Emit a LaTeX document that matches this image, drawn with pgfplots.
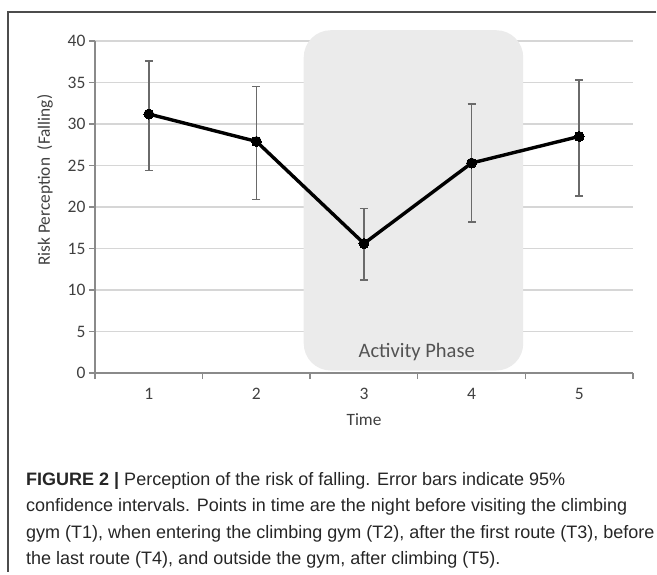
\documentclass[border=0pt]{standalone}
\usepackage{fontspec}
\setmainfont{Liberation Sans}
\newfontfamily\carlito{Carlito}
\usepackage{pgfplots}
\pgfplotsset{compat=1.18}

\definecolor{axisgray}{HTML}{8A8A8A}
\definecolor{gridgray}{HTML}{D6D6D6}
\definecolor{boxgray}{HTML}{EBEBEB}
\definecolor{txtgray}{HTML}{404040}
\definecolor{bargray}{HTML}{6A6A6A}

% time point, mean, upper and lower 95% CI half-widths
\pgfplotstableread{
x y ep em
1 31.2 6.4 6.8
2 27.9 6.6 7.0
3 15.6 4.2 4.4
4 25.3 7.1 7.1
5 28.5 6.8 7.2
}\risk

\begin{document}
\begin{tikzpicture}
\path (0pt,0pt) rectangle (657pt,-575pt);
\draw[black!70, line width=1.2pt] (656.4pt,-12pt) -- (8pt,-12pt) -- (8pt,-572pt);

\begin{axis}[
    set layers,
    scale only axis,
    width=538pt, height=332pt,
    at={(95pt,-373pt)}, anchor=south west,
    xmin=0.5, xmax=5.5,
    ymin=0, ymax=40,
    ytick={0,5,...,40},
    xtick={0.5,1.5,...,5.5},
    xticklabels={},
    extra x ticks={1,2,3,4,5},
    extra x tick labels={1,2,3,4,5},
    extra x tick style={major tick length=0pt},
    axis lines*=left,
    axis line style={axisgray, line width=1.6pt, -},
    tick style={axisgray, line width=1.4pt},
    tick align=outside,
    major tick length=6pt,
    ymajorgrids=true,
    grid style={gridgray, line width=1.3pt},
    clip=false,
    /pgf/number format/assume math mode=true,
    every tick label/.append style={font=\carlito\fontsize{17.5}{20}\selectfont, text=txtgray},
    xticklabel style={yshift=-12pt},
    xlabel={Time},
    ylabel={Risk Perception\ \ (Falling)},
    every axis x label/.style={at={(axis description cs:0.5,-0.1416)}, anchor=center,
        font=\carlito\fontsize{17.3}{20}\selectfont, text=txtgray},
    every axis y label/.style={at={(axis description cs:-0.093,0.581)}, rotate=90, anchor=center,
        font=\carlito\fontsize{17.3}{20}\selectfont, text=txtgray},
]
\draw[on layer=axis background, fill=boxgray, draw=none, rounded corners=27pt]
    (axis cs:2.44,0.3) rectangle (axis cs:4.48,41.3);
\node[font=\carlito\fontsize{20.5}{24}\selectfont, text=txtgray!90] at (axis cs:3.49,2.5) {Activity Phase};

\addplot[draw=none, mark=none,
    error bars/.cd, y dir=both, y explicit,
    error bar style={draw=bargray, line width=1.6pt},
    error mark options={rotate=90, mark size=4pt, draw=bargray, line width=1.6pt}]
    table[x=x, y=y, y error plus=ep, y error minus=em] {\risk};
\addplot[black, line width=3.4pt, mark=*, mark size=5pt, mark options={fill=black, line width=0pt}]
    table[x=x, y=y] {\risk};
\end{axis}

\node[anchor=north west, inner sep=0pt, align=left, text=black!85,
      font=\fontsize{18}{26.2}\selectfont] at (26pt,-472.5pt) {%
\textbf{FIGURE 2 |} Perception of the risk of falling. Error bars indicate 95\%\\
confidence intervals. Points in time are the night before visiting the climbing\\
gym (T1), when entering the climbing gym (T2), after the first route (T3), before\\
the last route (T4), and outside the gym, after climbing (T5).};
\end{tikzpicture}
\end{document}
